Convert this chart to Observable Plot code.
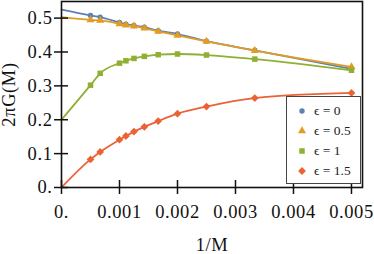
<!DOCTYPE html>
<html><head><meta charset="utf-8">
<script src="https://cdn.jsdelivr.net/npm/d3@7"></script>
<script src="https://cdn.jsdelivr.net/npm/@observablehq/plot@0.6"></script>
<style>
body{margin:0;background:#fff;}
#wrap{position:relative;width:374px;height:254px;}
#wrap svg, #wrap svg text{font-family:"Liberation Serif","Times New Roman","DejaVu Serif",serif !important;}
#wrap svg text{letter-spacing:0.6px;}
#legend{position:absolute;left:286px;top:96px;width:75px;height:88px;border:1px solid #444;background:#fff;box-sizing:border-box;font-family:"Liberation Serif","Times New Roman","DejaVu Serif",serif;font-size:13.5px;color:#222;}
.row{position:absolute;left:0;height:20px;width:74px;display:flex;align-items:center;}
.row svg{margin-left:9px;margin-right:6px;}
</style></head>
<body><div id="wrap"></div>
<script>
// 1/M values
const xValues = [0.0005, 0.000667, 0.001, 0.001111, 0.00125, 0.001429, 0.001667, 0.002, 0.0025, 0.003333, 0.005];
const seriesLabels = ["ϵ = 0", "ϵ = 0.5", "ϵ = 1", "ϵ = 1.5"];
const eps0  = [0.508, 0.503, 0.487, 0.482, 0.478, 0.473, 0.463, 0.453, 0.432, 0.405, 0.350];
const eps05 = [0.495, 0.493, 0.483, 0.479, 0.476, 0.470, 0.461, 0.449, 0.431, 0.404, 0.356];
const eps1  = [0.302, 0.337, 0.367, 0.374, 0.381, 0.387, 0.392, 0.394, 0.391, 0.379, 0.346];
const eps15 = [0.083, 0.105, 0.141, 0.152, 0.165, 0.179, 0.196, 0.218, 0.239, 0.264, 0.279];
// fitted curve values at 1/M = 0
const intercepts = [0.525, 0.503, 0.200, 0.000];
const colors = ["#5E81B5", "#E19C24", "#8FB032", "#EB6235"];
const xTicks = [0, 0.001, 0.002, 0.003, 0.004, 0.005];
const yTicks = [0, 0.1, 0.2, 0.3, 0.4, 0.5];

const diamond = {draw(ctx, size) { const r = Math.sqrt(size / 2); ctx.moveTo(0, -r); ctx.lineTo(r, 0); ctx.lineTo(0, r); ctx.lineTo(-r, 0); ctx.closePath(); }};
const symbols = [d3.symbolCircle, d3.symbolTriangle, d3.symbolSquare, diamond];
const radii = [2.7, 3.0, 3.1, 3.1];

const allValues = [eps0, eps05, eps1, eps15];
const marks = [];
allValues.forEach((vals, i) => {
  const pts = xValues.map((x, j) => ({x, y: vals[j]}));
  const linePts = [{x: 0, y: intercepts[i]}, ...pts];
  marks.push(Plot.line(linePts, {x: "x", y: "y", stroke: colors[i], strokeWidth: 1.8, curve: "monotone-x"}));
  marks.push(Plot.dot(pts, {x: "x", y: "y", fill: colors[i], stroke: "none", symbol: symbols[i], r: radii[i]}));
});

const fmtY = d => d === 0 ? "0." : d.toFixed(1);
const fmtX = d => d === 0 ? "0." : d.toFixed(3);

const chart = Plot.plot({
  width: 374, height: 254,
  marginLeft: 61, marginRight: 12, marginTop: 1, marginBottom: 67,
  style: {fontSize: "18.5px", color: "#111", background: "white"},
  x: {domain: [0, 0.00519]},
  y: {domain: [0, 0.549]},
  marks: [
    ...marks,
    Plot.frame({stroke: "#111", strokeWidth: 1.6}),
    Plot.axisX({ticks: xTicks, tickSize: 7, tickPadding: 10, tickFormat: fmtX, strokeWidth: 1.5, label: "1/M", labelAnchor: "center", labelOffset: 63, labelArrow: "none"}),
    Plot.axisX({ticks: xTicks, tickSize: -7, tickFormat: () => "", strokeWidth: 1.5, label: null}),
    Plot.axisY({ticks: yTicks, tickSize: 7, tickPadding: 2, tickFormat: fmtY, strokeWidth: 1.5, label: "2πG(M)", labelAnchor: "center", labelOffset: 60, labelArrow: "none"}),
    Plot.axisY({ticks: yTicks, tickSize: -7, tickFormat: () => "", strokeWidth: 1.5, label: null})
  ]
});
const wrap = document.getElementById("wrap");
wrap.appendChild(chart);

// legend
const legend = document.createElement("div");
legend.id = "legend";
seriesLabels.forEach((lab, i) => {
  const row = document.createElement("div");
  row.className = "row";
  row.style.top = (3.5 + 20.2 * i) + "px";
  const svg = d3.create("svg").attr("width", 12).attr("height", 12);
  svg.append("path").attr("transform", "translate(6,6)")
    .attr("d", d3.symbol(symbols[i], Math.PI * radii[i] * radii[i])())
    .attr("fill", colors[i]);
  row.appendChild(svg.node());
  const span = document.createElement("span");
  span.textContent = lab;
  row.appendChild(span);
  legend.appendChild(row);
});
wrap.appendChild(legend);
</script>
</body></html>
